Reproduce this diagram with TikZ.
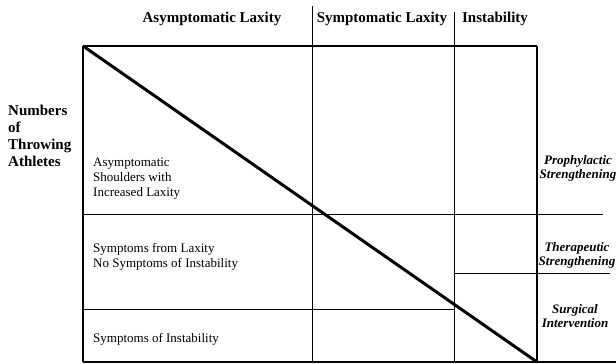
\documentclass[tikz,border=0pt]{standalone}
\usepackage{fontspec}
\setmainfont{Liberation Serif}

\begin{document}
\begin{tikzpicture}[x=1pt,y=-1pt,
    head/.style={font=\fontsize{15}{17}\selectfont\bfseries,anchor=base,inner sep=0pt},
    cell/.style={font=\fontsize{13}{15}\selectfont,align=left,anchor=base west,inner sep=0pt},
    act/.style={font=\fontsize{13}{14}\selectfont\bfseries\itshape,align=center,anchor=base,inner sep=0pt}]
    \useasboundingbox (0,0) rectangle (616,364);
    \draw[line width=1.5pt](83,46)--(537,46);
    \draw[line width=1.3pt](83,46)--(83,362);
    \draw[line width=2pt](537,46)--(537,362);
    \draw[line width=1.3pt](83,362)--(616,362);
    \draw[line width=1pt](312,6)--(312,362);
    \draw[line width=1pt](454,12)--(454,362);
    \draw[line width=1pt](83,214)--(603,214);
    \draw[line width=1pt](454,273)--(610,273);
    \draw[line width=1pt](83,309)--(454,309);
    \draw[line width=3pt](83,46)--(537,362);
    % base of a multi-line node = last line
    \node[head] (asymhead) at (212,23) {Asymptomatic Laxity};
    \node[head] (symhead) at (382,23) {Symptomatic Laxity};
    \node[head] (insthead) at (495,23) {Instability};
    \node[head,anchor=base west,align=left] (numbers) at (8,166) {Numbers\\of\\Throwing\\Athletes};
    \node[cell] (asymcell) at (93,196) {Asymptomatic\\Shoulders with\\Increased Laxity};
    \node[cell] (symcell) at (93,267) {Symptoms from Laxity\\No Symptoms of Instability};
    \node[cell] (instcell) at (93,342) {Symptoms of Instability};
    \node[act] (prophy) at (578,178) {Prophylactic\\Strengthening};
    \node[act] (thera) at (577,265) {Therapeutic\\Strengthening};
    \node[act] (surg) at (575,327) {Surgical\\Intervention};
\end{tikzpicture}
\end{document}
